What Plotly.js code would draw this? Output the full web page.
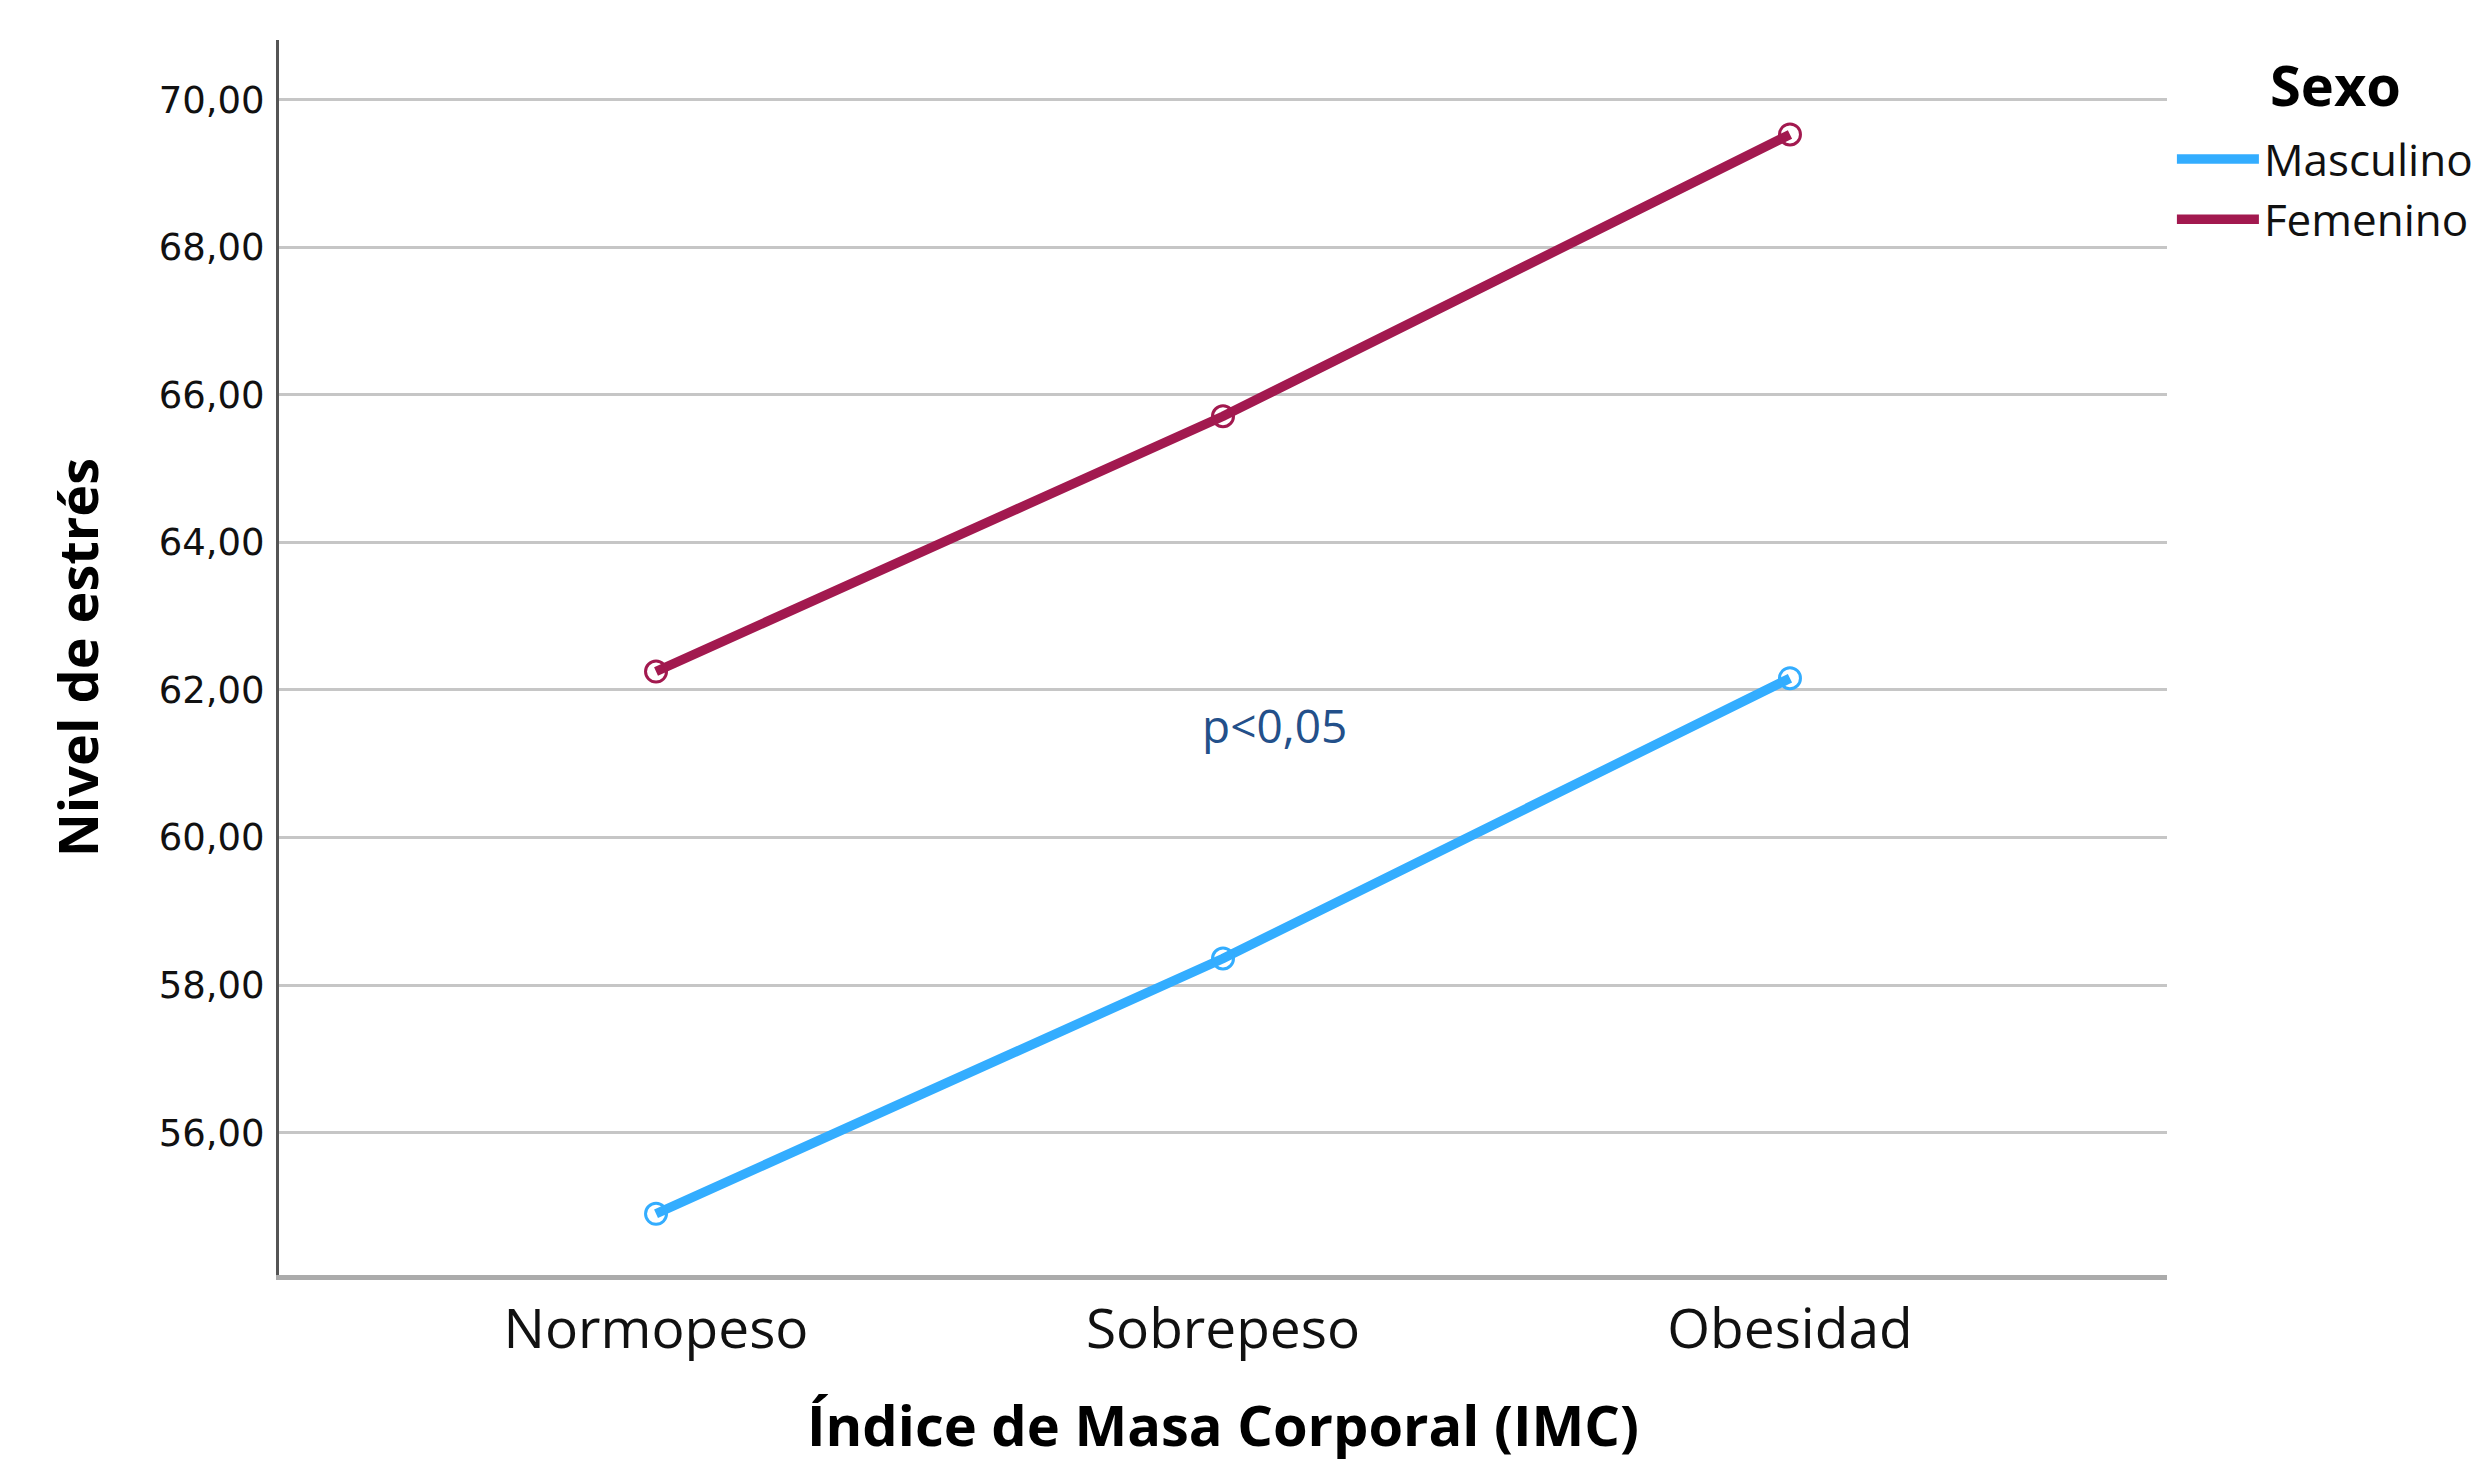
<!DOCTYPE html>
<html>
<head>
<meta charset="utf-8">
<script src="https://cdn.plot.ly/plotly-3.0.1.min.js"></script>
<style>html,body{margin:0;padding:0;background:#fff;}#chart{width:2484px;height:1462px;}</style>
</head>
<body>
<div id="chart"></div>
<script>
const categories = ["Normopeso", "Sobrepeso", "Obesidad"];
const masculino = [54.90, 58.36, 62.16];
const femenino = [62.25, 65.71, 69.53];
const seriesNames = ["Masculino", "Femenino"];
const seriesColors = ["#33adff", "#a2194f"];
const yTicks = [56, 58, 60, 62, 64, 66, 68, 70];
const legendTitle = "Sexo";
const annotationText = "p<0,05";

const catIndex = categories.map((c, i) => i);
const seriesValues = [masculino, femenino];

const traces = [];
seriesValues.forEach((vals, k) => {
  traces.push({
    x: catIndex, y: vals, name: seriesNames[k], type: "scatter", mode: "lines",
    line: {color: seriesColors[k], width: 9.5}, legendgroup: seriesNames[k]
  });
});
seriesValues.forEach((vals, k) => {
  traces.push({
    x: catIndex, y: vals, name: seriesNames[k], type: "scatter", mode: "markers",
    showlegend: false, legendgroup: seriesNames[k],
    marker: {symbol: "circle-open", size: 21, color: seriesColors[k], line: {width: 3, color: seriesColors[k]}}
  });
});

const layout = {
  width: 2484, height: 1462,
  margin: {l: 279, r: 317, t: 40, b: 187, pad: 0, autoexpand: false},
  paper_bgcolor: "#ffffff", plot_bgcolor: "#ffffff",
  separators: ",.",
  showlegend: true,
  font: {family: "Open Sans", color: "#000"},
  xaxis: {
    type: "linear",
    range: [-0.665, 2.665],
    tickvals: catIndex, ticktext: categories,
    showgrid: false, zeroline: false,
    showline: true, linecolor: "#ababab", linewidth: 5,
    ticks: "", ticklabelstandoff: 2,
    tickfont: {family: "Open Sans", size: 55, color: "#111"},
    title: {text: "Índice de Masa Corporal (IMC)", font: {family: "Open Sans", size: 56, color: "#000", weight: "bold"}, standoff: 65}
  },
  yaxis: {
    range: [54.07, 70.81],
    tickvals: yTicks, tickformat: ".2f",
    showgrid: true, gridcolor: "#c6c6c6", gridwidth: 3,
    zeroline: false,
    showline: true, linecolor: "#555555", linewidth: 3,
    ticks: "", ticklabelstandoff: 4,
    tickfont: {family: "DejaVu Sans", size: 37, color: "#111"},
    title: {text: "Nivel de estrés", font: {family: "Open Sans", size: 54, color: "#000", weight: "bold"}, standoff: 43}
  },
  legend: {
    x: 1.0026, y: 0.932, xanchor: "left", yanchor: "top",
    bgcolor: "rgba(0,0,0,0)", borderwidth: 0,
    itemwidth: 82,
    font: {family: "Open Sans", size: 44, color: "#111"},
    tracegroupgap: 0
  },
  annotations: [
    {x: 1.09, y: 61.52, xref: "x", yref: "y", text: annotationText, showarrow: false,
     font: {family: "Open Sans", size: 46, color: "#23508a"}},
    {x: 1.0535, y: 0.964, xref: "paper", yref: "paper", xanchor: "left", yanchor: "middle",
     text: legendTitle, showarrow: false,
     font: {family: "Open Sans", size: 56, color: "#000", weight: "bold"}}
  ]
};

Plotly.newPlot("chart", traces, layout, {displayModeBar: false, staticPlot: true});
</script>
</body>
</html>
